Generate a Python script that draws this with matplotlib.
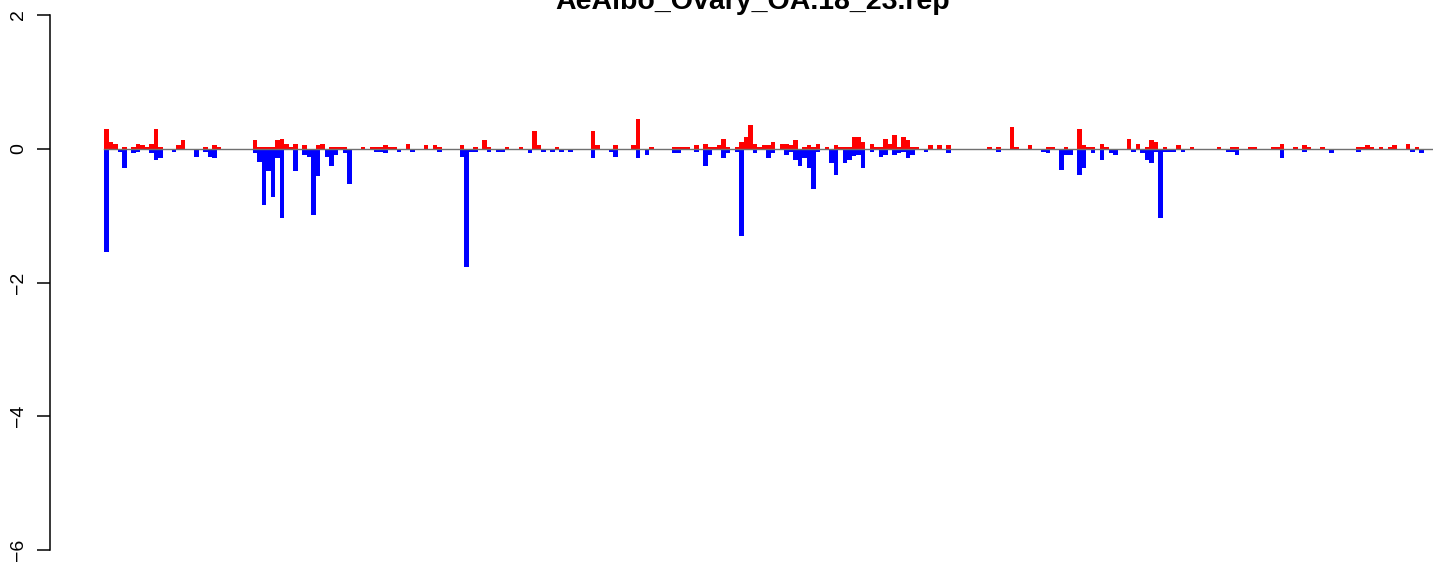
import numpy as np
import matplotlib
matplotlib.use("Agg")
import matplotlib.pyplot as plt

plt.rcParams['font.family'] = ['Liberation Sans', 'DejaVu Sans']

title = "AeAlbo_Ovary_OA.18_23.rep"

# positive scores (red), one per bin
up = [
    .29, .095, .065, 0, .02, 0, .02, .065, .05, .02,
    .065, .29, .02, 0, 0, 0, .05, .125, 0, 0,
    0, 0, .02, 0, .05, .02, 0, 0, 0, 0,
    0, 0, 0, .125, .02, .02, .02, .02, .125, .14,
    .065, .02, .065, 0, .05, 0, 0, .05, .065, 0,
    .02, .02, .02, .02, 0, 0, 0, .02, 0, .02,
    .02, .02, .05, .02, .02, 0, 0, .065, 0, 0,
    0, .05, 0, .05, .02, 0, 0, 0, 0, .05,
    0, 0, .02, 0, .125, .02, 0, 0, 0, .02,
    0, 0, .02, 0, 0, .26, .05, 0, 0, 0,
    .02, 0, 0, 0, 0, 0, 0, 0, .26, .05,
    0, 0, 0, .05, 0, 0, 0, .05, .44, 0,
    0, .02, 0, 0, 0, 0, .02, .02, .02, .02,
    0, .05, 0, .065, .02, .02, .05, .14, .02, 0,
    .02, .095, .17, .36, .065, .02, .05, .05, .095, 0,
    .065, .065, .05, .125, 0, .02, .05, .02, .065, 0,
    .02, 0, .05, .02, .02, .02, .17, .17, .095, 0,
    .065, .02, .02, .14, .065, .21, .02, .17, .125, .02,
    .02, 0, 0, .05, 0, .05, 0, .05, 0, 0,
    0, 0, 0, 0, 0, 0, .02, 0, .02, 0,
    0, .32, .02, 0, 0, .05, 0, 0, 0, .02,
    .02, 0, 0, .02, 0, 0, .29, .05, .02, .02,
    0, .065, .02, 0, 0, 0, 0, .14, 0, .065,
    0, .02, .125, .095, 0, .02, 0, 0, .05, 0,
    0, .02, 0, 0, 0, 0, 0, .02, 0, 0,
    .02, .02, 0, 0, .02, .02, 0, 0, 0, .02,
    .02, .065, 0, 0, .02, 0, .05, .02, 0, 0,
    .02, 0, 0, 0, 0, 0, 0, 0, .02, .02,
    .05, .02, 0, .02, 0, .02, .05, 0, 0, .065,
    0, .02, 0,
]

# negative scores (blue), same bins
down = [
    -1.54, -.015, 0, -.05, -.29, -.015, -.065, -.05, -.015, 0,
    -.065, -.17, -.14, -.015, -.015, -.05, -.015, 0, -.015, -.015,
    -.125, -.015, -.05, -.125, -.14, -.015, -.015, 0, 0, -.015,
    -.015, -.015, -.015, -.065, -.2, -.84, -.33, -.72, -.14, -1.03,
    -.015, 0, -.33, -.015, -.095, -.125, -.99, -.41, -.015, -.125,
    -.26, -.095, -.015, -.065, -.53, -.015, -.015, 0, 0, -.015,
    -.05, -.05, -.065, -.015, -.015, -.05, -.015, 0, -.05, 0,
    0, -.015, 0, 0, -.05, -.015, 0, 0, -.015, -.125,
    -1.77, -.05, -.05, 0, -.015, -.05, -.015, -.05, -.05, 0,
    0, -.015, -.015, -.015, -.065, 0, -.015, -.05, -.015, -.05,
    0, -.05, -.015, -.05, -.015, 0, 0, -.015, -.14, 0,
    0, 0, -.05, -.125, 0, 0, 0, -.015, -.14, 0,
    -.095, 0, -.015, 0, -.015, -.015, -.065, -.065, -.015, -.015,
    0, -.05, 0, -.26, -.095, 0, -.015, -.14, -.065, 0,
    -.05, -1.30, 0, -.015, -.065, -.015, -.015, -.14, -.065, -.015,
    -.015, -.095, -.05, -.17, -.26, -.14, -.29, -.6, -.05, -.025,
    0, -.21, -.39, -.015, -.21, -.17, -.11, -.095, -.29, 0,
    -.05, 0, -.125, -.095, -.015, -.095, -.065, -.05, -.14, -.095,
    -.015, 0, -.05, -.015, -.015, 0, -.015, -.065, 0, 0,
    -.015, 0, 0, 0, 0, 0, 0, 0, -.05, -.015,
    -.015, 0, 0, 0, 0, 0, -.015, -.015, -.05, -.065,
    -.015, 0, -.32, -.095, -.095, -.015, -.39, -.29, -.015, -.065,
    0, -.17, -.015, -.065, -.095, 0, 0, 0, -.05, -.015,
    -.065, -.17, -.21, -.05, -1.03, -.05, -.05, -.05, 0, -.05,
    0, -.015, 0, 0, 0, -.015, -.015, 0, 0, -.05,
    -.05, -.095, 0, -.015, 0, -.015, 0, 0, -.015, 0,
    0, -.14, 0, -.015, 0, 0, -.05, 0, 0, 0,
    0, 0, -.065, 0, 0, 0, 0, 0, -.05, 0,
    -.015, -.015, 0, 0, -.015, 0, -.015, 0, -.015, 0,
    -.05, 0, -.065,
]

yticks = [-6, -4, -2, 0, 2]

W, H = 1433, 571
fig = plt.figure(figsize=(W / 100, H / 100), dpi=100)
ax = fig.add_axes([50 / W, 21 / H, (W - 50) / W, 535 / H])

x = np.arange(len(up))
ax.bar(x, up, width=1, align='edge', color='#ff0000', linewidth=0)
ax.bar(x, down, width=1, align='edge', color='#0000ff', linewidth=0)
# zero line sits on top of the bars
ax.plot([0, len(up) + 10], [0, 0], color='#707070', lw=1, zorder=3)

ax.set_xlim(-12, 295)
ax.set_ylim(-6, 2)
ax.set_xticks([])
ax.set_yticks(yticks)
ax.set_yticklabels([str(t).replace('-', '\u2212') for t in yticks],
                   rotation=90, va='center', fontsize=14)
ax.tick_params(axis='y', length=9.4, width=1.1, pad=7)
for s in ['top', 'right', 'bottom']:
    ax.spines[s].set_visible(False)
ax.spines['left'].set_bounds(-6, 2)
ax.spines['left'].set_linewidth(1.1)
ax.patch.set_visible(False)

fig.text(753 / W, 1 - 9 / H, title, ha='center', va='baseline',
         fontsize=20.5, fontweight='bold')

fig.savefig("out.png", dpi=100)
